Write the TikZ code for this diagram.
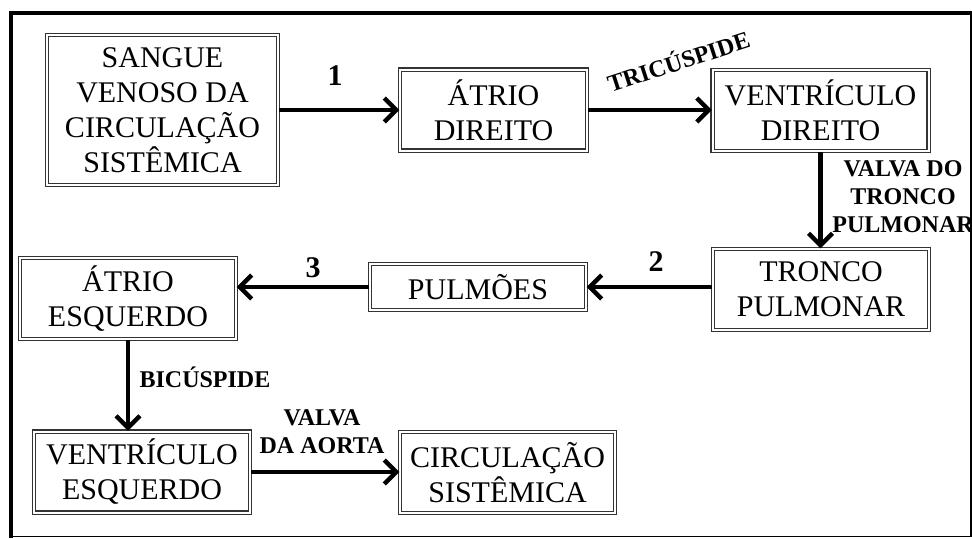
\documentclass[tikz,border=0pt]{standalone}
\usepackage{fontspec}
\setmainfont{Liberation Serif}
\usepackage{tikz}
\usetikzlibrary{arrows.meta,positioning,calc}
\tikzset{
  block/.style={draw=black!80,double,double distance=1pt,line width=0.6pt,align=center,inner sep=0pt,
    font=\fontsize{15}{17.5}\selectfont,minimum width=108pt,minimum height=40.5pt},
  arr/.style={-{Straight Barb[length=6pt,width=12pt]},line width=2.2pt},
  valve/.style={font=\bfseries\fontsize{12}{14}\selectfont,align=center,inner sep=0pt},
  stepnum/.style={font=\bfseries\fontsize{15}{17}\selectfont,inner sep=0pt}
}

\begin{document}
\begin{tikzpicture}[x=0.5pt,y=-0.5pt]
 \useasboundingbox (0,0) rectangle (972,538);
 \draw[line width=2pt] (11,538) -- (11,13) -- (972,13);
 \draw[line width=0.6pt] (11,536.5) -- (971,536.5) -- (971,13);
 \node[block,minimum width=115.5pt,minimum height=75pt] (sv) at (162.5,110) {SANGUE\\VENOSO DA\\CIRCULAÇÃO\\SISTÊMICA};
 \node[block,minimum width=93.5pt] (ad) at (493.5,110) {ÁTRIO\\DIREITO};
 \node[block] (vd) at (820.5,110.5) {VENTRÍCULO\\DIREITO};
 \node[block] (tp) at (821,289.5) {TRONCO\\PULMONAR};
 \node[block,minimum height=23pt] (pu) at (478,287) {PULMÕES};
 \node[block] (ae) at (128,298.5) {ÁTRIO\\ESQUERDO};
 \node[block] (ve) at (142,472) {VENTRÍCULO\\ESQUERDO};
 \node[block,minimum width=107.5pt] (cs) at (507.5,472.5) {CIRCULAÇÃO\\SISTÊMICA};
 \draw[arr] (sv) -- (ad);
 \draw[arr] (ad.east) -- (ad.east -| vd.west);
 \draw[arr] (vd.south) -- (vd.south |- tp.north);
 \draw[arr] (tp.west |- pu) -- (pu.east);
 \draw[arr] (pu.west) -- (pu.west -| ae.east);
 \draw[arr] (ae.south) -- (ae.south |- ve.north);
 \draw[arr] (ve.east) -- (ve.east -| cs.west);
 \node[stepnum] (n1) at (335,76) {1};
 \node[valve,rotate=18] (tri) at (678,60) {TRICÚSPIDE};
 \node[valve] (vtp) at (903,197) {VALVA DO\\TRONCO\\PULMONAR};
 \node[stepnum] (n2) at (656,262) {2};
 \node[stepnum] (n3) at (313,268) {3};
 \node[valve] (bic) at (205,377) {BICÚSPIDE};
 \node[valve] (vao) at (322,432) {VALVA\\DA AORTA};
\end{tikzpicture}
\end{document}
